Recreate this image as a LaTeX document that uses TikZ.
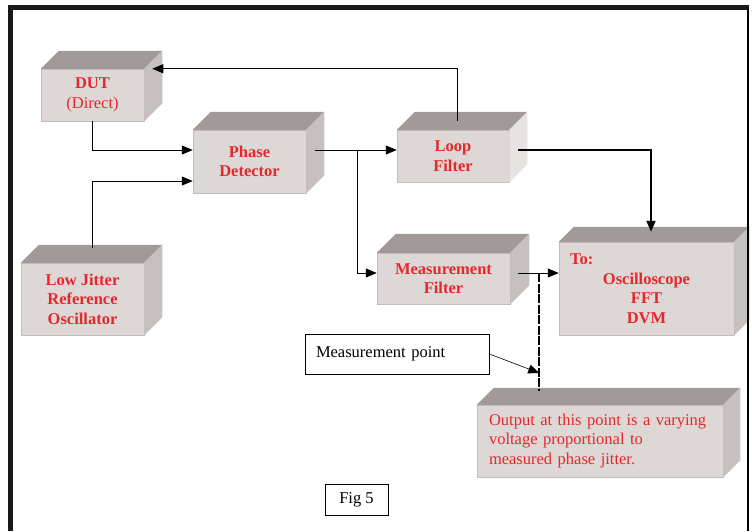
\documentclass[tikz,border=0pt]{standalone}
\usepackage{fontspec}
\setmainfont{Liberation Serif}
\usetikzlibrary{calc, positioning, arrows.meta}

\definecolor{frontgray}{HTML}{DDD7D6}
\definecolor{topgray}{HTML}{A29A99}
\definecolor{sidegray}{HTML}{C6C0BE}
\definecolor{lightside}{HTML}{E7E3E2}
\definecolor{labelred}{HTML}{E5282C}

\tikzset{block/.style={rectangle, fill=frontgray, draw=frontgray!88!black, line width=0.5pt,
                       inner sep=0pt, align=center, text=labelred,
                       font=\fontsize{16.5}{19.5}\selectfont\bfseries},
note/.style={rectangle, draw=black, fill=white, line width=0.8pt, inner sep=0pt,
             font=\fontsize{16.5}{19.5}\selectfont},
link/.style={line width=0.8pt, -{Triangle[length=11pt,width=9pt]}},
tapline/.style={line width=2pt, dash pattern=on 9pt off 1.5pt}}

% top and side faces of a block
\newcommand{\boxfaces}[3][sidegray]{%
  \fill[topgray] (#2.north west) -- ($(#2.north west)+(#3,-#3)$)
    -- ($(#2.north east)+(#3,-#3)$) -- (#2.north east) -- cycle;
  \fill[#1] (#2.north east) -- ($(#2.north east)+(#3,-#3)$)
    -- ($(#2.south east)+(#3,-#3)$) -- (#2.south east) -- cycle;}

\begin{document}
\begin{tikzpicture}[x=1pt, y=-1pt]
  \useasboundingbox (0,0) rectangle (752,531);
  \fill[white] (0,0) rectangle (752,531);

%BLOCKS
  \node[block, minimum width=103pt, minimum height=52pt] (dut) at (92.5,95) {DUT\\{\mdseries(Direct)}};
  \boxfaces{dut}{18}
  \node[block, minimum width=113pt, minimum height=63pt] (pd) at (249.5,161.5) {Phase\\Detector};
  \boxfaces{pd}{18}
  \node[block, minimum width=112pt, minimum height=52pt] (lf) at (453,156) {Loop\\Filter};
  \boxfaces[lightside]{lf}{18}
  \node[block, minimum width=123pt, minimum height=72pt] (ljro) at (82.5,299) {Low Jitter\\Reference\\Oscillator};
  \boxfaces{ljro}{18}
  \node[block, minimum width=133pt, minimum height=51pt] (mf) at (443.5,278.5) {Measurement\\Filter};
  \boxfaces{mf}{19}
  \node[block, minimum width=175pt, minimum height=93pt] (scope) at (646.5,288.5)
       {\makebox[153pt][l]{To:}\\Oscilloscope\\FFT\\DVM};
  \boxfaces{scope}{15}
  \node[block, minimum width=246pt, minimum height=72pt, text width=222pt, align=left,
        font=\fontsize{16.5}{19.5}\selectfont] (out) at (600,441)
       {Output at this point is a varying\\voltage proportional to\\measured phase jitter.};
  \boxfaces{out}{17}

%NOTES
  \node[note, minimum width=184pt, minimum height=40pt, text width=162pt, align=left] (mpnote) at (397,354) {Measurement point};
  \node[note, minimum width=63pt, minimum height=31pt] (fig) at (356.5,499.5) {Fig 5};

%CONNECTORS
  \coordinate (dutin) at ($(dut.north east)+(8,0)$);
  \coordinate (lftop) at ($(lf.north)+(4,-9)$);
  \coordinate (pdinA) at ($(pd.west)+(0,-11.5)$);
  \coordinate (pdinB) at ($(pd.west)+(0,19.5)$);
  \coordinate (ljtop) at ($(ljro.north)+(9.5,-15)$);
  \coordinate (pdout) at ($(pd.east)+(9,-11.5)$);
  \coordinate (lfin) at ($(lf.west)+(0,-6)$);
  \coordinate (split) at ($(pdout)+(42,0)$);
  \coordinate (mfin) at ($(mf.west)+(0,-5.5)$);
  \coordinate (lfout) at ($(lf.east)+(9,-6)$);
  \coordinate (scopetop) at ($(scope.north)+(4.5,-10)$);
  \coordinate (mfout) at ($(mf.east)+(8,-5.5)$);
  \coordinate (scopein) at (scope.west |- mfout);
  \coordinate (tap) at ($(mfout)+(21,0)$);
  \coordinate (outtop) at ($(tap |- out.north)+(0,-14)$);
  \coordinate (mptip) at ($(tap)+(0,100)$);

  \draw[link] (lftop) |- (dutin);
  \draw[link] (dut.south) |- (pdinA);
  \draw[link] (ljtop) |- (pdinB);
  \draw[link] (pdout) -- (lfin);
  \draw[link] (split) |- (mfin);
  \draw[link, line width=2pt] (lfout) -| (scopetop);
  \draw[link] (mfout) -- (scopein);
  \draw[tapline] (tap) -- (outtop);
  \draw[link, line width=0.6pt] (mpnote.east) -- (mptip);

%FRAME
  \draw[line width=4.5pt, black!90] (10.5,531) -- (10.5,7.5) -- (749,7.5);
  \draw[line width=2pt] (748,7.5) -- (748,531);
\end{tikzpicture}
\end{document}
